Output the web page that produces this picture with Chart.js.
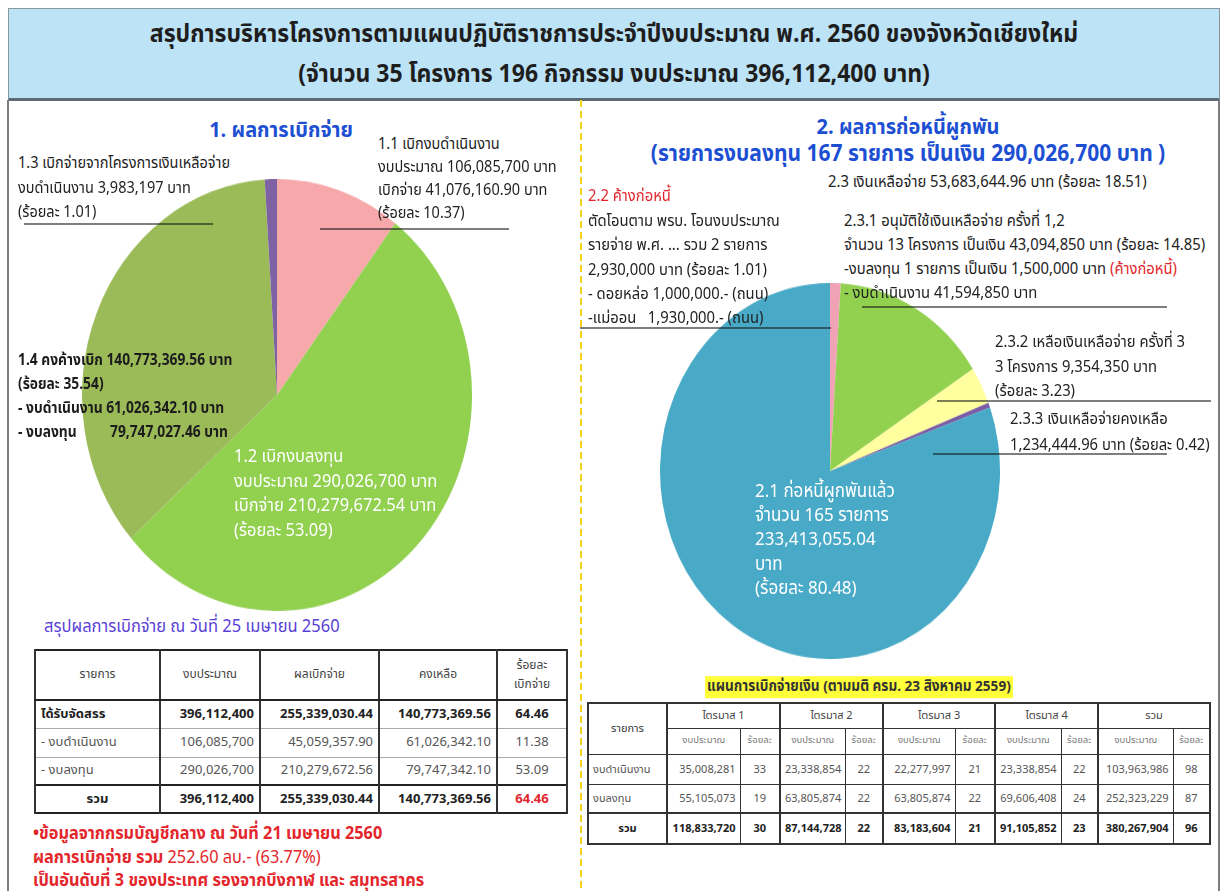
<!DOCTYPE html>
<html lang="th">
<head>
<meta charset="utf-8">
<title>สรุปการบริหารโครงการ พ.ศ. 2560 จังหวัดเชียงใหม่</title>
<script src="https://cdn.jsdelivr.net/npm/chart.js@4.4.0/dist/chart.umd.min.js"></script>
<style>
  html, body { margin: 0; padding: 0; background: #fff; }
  body {
    width: 1222px; height: 891px; overflow: hidden; position: relative;
    font-family: Tahoma, "Noto Sans Thai", "Noto Sans Thai UI", Loma, Garuda, Sarabun, "Noto Sans", "DejaVu Sans", sans-serif;
    color: #222;
  }
  .banner {
    position: absolute; left: 8px; top: 8px; width: 1210px; height: 89px;
    background: #bde3f7; border: 1px solid #8a979f; border-bottom: 3px solid #5d6b74;
  }
  .banner div {
    position: absolute; left: 0; width: 100%; text-align: center;
    font-size: 23px; font-weight: bold; color: #1e1e1e; line-height: 1;
    transform: translateY(-50%) scaleY(1.1);
  }
  .vline { position: absolute; top: 100px; bottom: 0; width: 2px; background: #7d7d7d; }
  .dash {
    position: absolute; left: 580px; top: 100px; bottom: 0; width: 2px;
    background: repeating-linear-gradient(to bottom, #f3d21b 0 7px, transparent 7px 11px);
  }
  .t {
    position: absolute; white-space: pre; line-height: 1; font-size: 14.5px;
    transform: translateY(-50%) scaleY(1.1); transform-origin: left center;
  }
  .c { transform: translate(-50%, -50%) scaleY(1.1); transform-origin: center center; }
  .lead { position: absolute; height: 2px; background: rgba(20, 20, 20, 0.55); }
  .pie { position: absolute; }
  .pie canvas { display: block; }
  table { position: absolute; border-collapse: collapse; table-layout: fixed; }
  td { padding: 0 5px; overflow: hidden; white-space: nowrap; line-height: 1; }
  #sumTable { left: 34px; top: 649px; width: 532px; border: 2px solid #222; font-size: 13px; }
  #sumTable td { border-left: 2px solid #333; border-right: 2px solid #333; border-top: 1px solid #aaa; text-align: right; color: #555; }
  #sumTable tr.head td { border-bottom: 2px solid #222; text-align: center; font-size: 12px; color: #444; line-height: 1.6; }
  #sumTable tr.main td { font-weight: bold; color: #222; }
  #sumTable tr.total td { border-top: 2px solid #222; font-weight: bold; color: #222; }
  #sumTable td.name { text-align: left; }
  #sumTable tr.total td.name { text-align: center; }
  #planTable { left: 587px; top: 702px; width: 622px; border: 2px solid #333; font-size: 11px; }
  #planTable td { border: 1px solid #333; text-align: right; color: #555; padding: 0 4px; }
  #planTable td.pct { text-align: center; }
  #planTable tr.hd td { text-align: center; color: #444; }
  #planTable tr.sub td { font-size: 9.5px; color: #777; }
  #planTable td.q { border-left: 2px solid #333; }
  #planTable tr.total td { border-top: 2px solid #333; font-weight: bold; color: #222; }
  #planTable td.name { text-align: left; }
  #planTable tr.total td.name, #planTable tr.hd td.name { text-align: center; }
</style>
</head>
<body>

<div class="banner">
  <div style="top:26px">สรุปการบริหารโครงการตามแผนปฏิบัติราชการประจำปีงบประมาณ พ.ศ. 2560 ของจังหวัดเชียงใหม่</div>
  <div style="top:66px">(จำนวน 35 โครงการ 196 กิจกรรม งบประมาณ 396,112,400 บาท)</div>
</div>
<div class="vline" style="left:7px"></div>
<div class="vline" style="left:1218px"></div>
<div class="dash"></div>

<div class="pie" id="leftWrap"><canvas id="pieLeft"></canvas></div>
<div class="pie" id="rightWrap"><canvas id="pieRight"></canvas></div>

<div id="labels"></div>

<table id="sumTable"></table>
<table id="planTable"></table>

<script>
// ผลการเบิกจ่าย (บาท) เรียงตามเข็มนาฬิกาจากด้านบน
const spendLabels = ['1.1 เบิกงบดำเนินงาน', '1.2 เบิกงบลงทุน', '1.4 คงค้างเบิก', '1.3 เบิกจ่ายจากโครงการเงินเหลือจ่าย'];
const spendValues = [41076160.90, 210279672.54, 140773369.56, 3983197];

// ผลการก่อหนี้ผูกพัน งบลงทุน (บาท)
const debtLabels = ['2.2 ค้างก่อหนี้', '2.3.1 อนุมัติใช้เงินเหลือจ่าย ครั้งที่ 1,2', '2.3.2 เหลือเงินเหลือจ่าย ครั้งที่ 3', '2.3.3 เงินเหลือจ่ายคงเหลือ', '2.1 ก่อหนี้ผูกพันแล้ว'];
const debtValues = [2930000, 43094850, 9354350, 1234444.96, 233413055.04];

// ตารางสรุปผลการเบิกจ่าย ณ วันที่ 25 เมษายน 2560
const sumHeaders = ['รายการ', 'งบประมาณ', 'ผลเบิกจ่าย', 'คงเหลือ', 'ร้อยละ<br>เบิกจ่าย'];
const sumRows = [
    ['ได้รับจัดสรร', '396,112,400', '255,339,030.44', '140,773,369.56', '64.46'],
    ['- งบดำเนินงาน', '106,085,700', '45,059,357.90', '61,026,342.10', '11.38'],
    ['- งบลงทุน', '290,026,700', '210,279,672.56', '79,747,342.10', '53.09'],
    ['รวม', '396,112,400', '255,339,030.44', '140,773,369.56', '64.46']
];

// แผนการเบิกจ่ายเงินรายไตรมาส
const quarters = ['ไตรมาส 1', 'ไตรมาส 2', 'ไตรมาส 3', 'ไตรมาส 4', 'รวม'];
const planRows = [
    ['งบดำเนินงาน', '35,008,281', '33', '23,338,854', '22', '22,277,997', '21', '23,338,854', '22', '103,963,986', '98'],
    ['งบลงทุน', '55,105,073', '19', '63,805,874', '22', '63,805,874', '22', '69,606,408', '24', '252,323,229', '87'],
    ['รวม', '118,833,720', '30', '87,144,728', '22', '83,183,604', '21', '91,105,852', '23', '380,267,904', '96']
];

const spendColors = ['#f6a8aa', '#92d050', '#9bbb59', '#7f62a4'];
const debtColors = ['#f1a3b6', '#92d050', '#ffffa0', '#7a5ca6', '#48aac6'];

function makePie(wrapId, canvasId, labels, values, colors, cx, cy, rx, ry) {
    const wrap = document.getElementById(wrapId);
    const canvas = document.getElementById(canvasId);
    canvas.width = rx * 2;
    canvas.height = rx * 2;
    wrap.style.left = (cx - rx) + 'px';
    wrap.style.top = (cy - rx) + 'px';
    wrap.style.width = (rx * 2) + 'px';
    wrap.style.height = (rx * 2) + 'px';
    wrap.style.transform = 'scaleY(' + (ry / rx) + ')';

    new Chart(canvas, {
        type: 'pie',
        data: {
            labels: labels,
            datasets: [{
                data: values,
                backgroundColor: colors,
                borderWidth: 0,
                hoverOffset: 0,
                offset: 0
            }]
        },
        options: {
            responsive: false,
            animation: false,
            events: [],
            layout: { padding: 0 },
            plugins: { legend: { display: false }, tooltip: { enabled: false } }
        }
    });
}

makePie('leftWrap', 'pieLeft', spendLabels, spendValues, spendColors, 277, 395, 195, 216);
makePie('rightWrap', 'pieRight', debtLabels, debtValues, debtColors, 830, 471, 170, 188);

// ข้อความกำกับและเส้นชี้
const box = document.getElementById('labels');
function text(x, y, html, style, center) {
    const d = document.createElement('div');
    d.className = center ? 't c' : 't';
    d.style.left = x + 'px';
    d.style.top = y + 'px';
    if (style) d.style.cssText += style;
    d.innerHTML = html;
    box.appendChild(d);
}
function lead(x1, x2, y) {
    const d = document.createElement('div');
    d.className = 'lead';
    d.style.left = x1 + 'px';
    d.style.width = (x2 - x1) + 'px';
    d.style.top = (y - 1) + 'px';
    box.appendChild(d);
}

const blueHead = 'font-size:20px;font-weight:bold;color:#1d4fd3;';
const red = '#e3262b';

text(281, 130, '1. ผลการเบิกจ่าย', blueHead, true);
['1.1 เบิกงบดำเนินงาน', 'งบประมาณ 106,085,700 บาท', 'เบิกจ่าย 41,076,160.90 บาท', '(ร้อยละ 10.37)']
    .forEach((s, i) => text(378, 145 + i * 23, s));
lead(320, 509, 229);
['1.3 เบิกจ่ายจากโครงการเงินเหลือจ่าย', 'งบดำเนินงาน 3,983,197 บาท', '(ร้อยละ 1.01)']
    .forEach((s, i) => text(18, 164 + i * 24.5, s));
lead(24, 213, 224);
['1.4 คงค้างเบิก 140,773,369.56 บาท', '(ร้อยละ 35.54)', '- งบดำเนินงาน 61,026,342.10 บาท', '- งบลงทุน']
    .forEach((s, i) => text(18, 360 + i * 24, s, 'font-size:13.8px;font-weight:bold;color:#1c1c1c;'));
text(110, 432, '79,747,027.46 บาท', 'font-size:13.8px;font-weight:bold;color:#1c1c1c;');
['1.2 เบิกงบลงทุน', 'งบประมาณ 290,026,700 บาท', 'เบิกจ่าย 210,279,672.54 บาท', '(ร้อยละ 53.09)']
    .forEach((s, i) => text(234, 457 + i * 24.5, s, 'font-size:16.5px;color:#fff;'));

text(44, 627, 'สรุปผลการเบิกจ่าย ณ วันที่ 25 เมษายน 2560', 'font-size:16.5px;color:#5a3fd6;');
text(33, 834, '•ข้อมูลจากกรมบัญชีกลาง ณ วันที่ 21 เมษายน 2560', 'font-size:16.3px;font-weight:bold;color:' + red + ';');
text(33, 858, '<b>ผลการเบิกจ่าย รวม</b> 252.60 ลบ.- (63.77%)', 'font-size:16.3px;color:' + red + ';');
text(33, 881, 'เป็นอันดับที่ 3 ของประเทศ รองจากบึงกาฬ และ สมุทรสาคร', 'font-size:16.3px;font-weight:bold;color:' + red + ';');

text(908, 127, '2. ผลการก่อหนี้ผูกพัน', blueHead, true);
text(908, 154, '(รายการงบลงทุน 167 รายการ เป็นเงิน 290,026,700 บาท )', blueHead + 'font-size:21px;', true);
text(828, 183, '2.3 เงินเหลือจ่าย 53,683,644.96 บาท (ร้อยละ 18.51)', 'font-size:14.8px;');
text(588, 197, '2.2 ค้างก่อหนี้', 'font-size:14.8px;color:' + red + ';');
['ตัดโอนตาม พรบ. โอนงบประมาณ', 'รายจ่าย พ.ศ. ... รวม 2 รายการ', '2,930,000 บาท (ร้อยละ 1.01)',
 '- ดอยหล่อ 1,000,000.- (ถนน)', '-แม่ออน   1,930,000.- (ถนน)']
    .forEach((s, i) => text(588, 222 + i * 24.3, s, 'font-size:14.8px;'));
lead(580, 831, 328);
['2.3.1 อนุมัติใช้เงินเหลือจ่าย ครั้งที่ 1,2', 'จำนวน 13 โครงการ เป็นเงิน 43,094,850 บาท (ร้อยละ 14.85)',
 '-งบลงทุน 1 รายการ เป็นเงิน 1,500,000 บาท <span style="color:' + red + '">(ค้างก่อหนี้)</span>', '- งบดำเนินงาน 41,594,850 บาท']
    .forEach((s, i) => text(844, 222 + i * 24, s, 'font-size:14.8px;'));
lead(862, 1167, 307);
['2.3.2 เหลือเงินเหลือจ่าย ครั้งที่ 3', '3 โครงการ 9,354,350 บาท', '(ร้อยละ 3.23)']
    .forEach((s, i) => text(995, 343 + i * 24.5, s, 'font-size:14.8px;'));
lead(937, 1211, 401);
['2.3.3 เงินเหลือจ่ายคงเหลือ', '1,234,444.96 บาท (ร้อยละ 0.42)']
    .forEach((s, i) => text(1010, 420 + i * 26, s, 'font-size:14.8px;'));
lead(933, 1167, 454);
['2.1 ก่อหนี้ผูกพันแล้ว', 'จำนวน 165 รายการ', '233,413,055.04', 'บาท', '(ร้อยละ 80.48)']
    .forEach((s, i) => text(755, 492 + i * 24.2, s, 'font-size:17px;color:#fff;'));

text(705, 687, 'แผนการเบิกจ่ายเงิน (ตามมติ ครม. 23 สิงหาคม 2559)',
     'font-size:13.6px;font-weight:bold;color:#333;background:#ffff3a;padding:3px 2px;');

// ตารางสรุปผลการเบิกจ่าย
const sumTable = document.getElementById('sumTable');
const sumWidths = [125, 100, 119, 118, 70];
let html = '<colgroup>' + sumWidths.map(w => '<col style="width:' + w + 'px">').join('') + '</colgroup>';
html += '<tr class="head" style="height:50px">' + sumHeaders.map(h => '<td>' + h + '</td>').join('') + '</tr>';
const sumHeights = [28, 29, 28, 28];
sumRows.forEach((r, i) => {
    const cls = i === 0 ? 'main' : (i === sumRows.length - 1 ? 'total' : '');
    html += '<tr class="' + cls + '" style="height:' + sumHeights[i] + 'px">' + r.map((v, j) => {
        if (j === 0) return '<td class="name">' + v + '</td>';
        if (j === 4) {
            const c = cls === 'total' ? ' style="color:' + red + ';text-align:center"' : ' style="text-align:center"';
            return '<td' + c + '>' + v + '</td>';
        }
        return '<td>' + v + '</td>';
    }).join('') + '</tr>';
});
sumTable.innerHTML = html;

// ตารางแผนการเบิกจ่ายเงิน
const planTable = document.getElementById('planTable');
const planWidths = [79, 73, 40, 65, 38, 72, 40, 66, 37, 75, 37];
let ph = '<colgroup>' + planWidths.map(w => '<col style="width:' + w + 'px">').join('') + '</colgroup>';
ph += '<tr class="hd" style="height:25px"><td class="name" rowspan="2" style="color:#333">รายการ</td>' +
      quarters.map(q => '<td class="q" colspan="2">' + q + '</td>').join('') + '</tr>';
ph += '<tr class="hd sub" style="height:26px">' +
      quarters.map(() => '<td class="q">งบประมาณ</td><td>ร้อยละ</td>').join('') + '</tr>';
const planHeights = [30, 29, 31];
planRows.forEach((r, i) => {
    const cls = i === planRows.length - 1 ? 'total' : '';
    ph += '<tr class="' + cls + '" style="height:' + planHeights[i] + 'px">' + r.map((v, j) => {
        if (j === 0) return '<td class="name">' + v + '</td>';
        return j % 2 === 1 ? '<td class="q">' + v + '</td>' : '<td class="pct">' + v + '</td>';
    }).join('') + '</tr>';
});
planTable.innerHTML = ph;
</script>
</body>
</html>
